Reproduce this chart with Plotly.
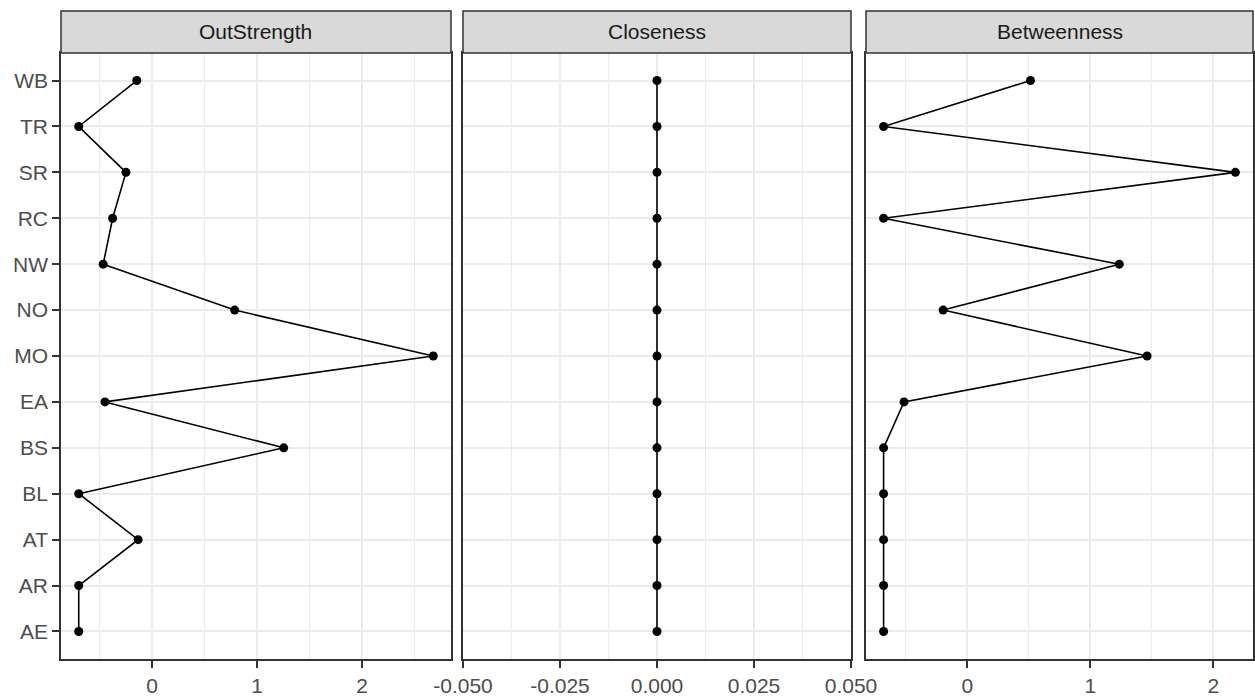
import plotly.graph_objects as go

# ---- data ----
categories = ["AE", "AR", "AT", "BL", "BS", "EA", "MO", "NO", "NW", "RC", "SR", "TR", "WB"]
outstrength = [-0.70, -0.70, -0.134, -0.70, 1.253, -0.45, 2.678, 0.786, -0.467, -0.377, -0.25, -0.70, -0.147]
closeness = [0.0] * 13
betweenness = [-0.68, -0.68, -0.68, -0.68, -0.68, -0.514, 1.462, -0.196, 1.236, -0.68, 2.18, -0.68, 0.514]
panel_titles = ["OutStrength", "Closeness", "Betweenness"]

x1_ticks = [0, 1, 2]
x1_labels = ["0", "1", "2"]
x2_ticks = [-0.05, -0.025, 0.0, 0.025, 0.05]
x2_labels = ["-0.050", "-0.025", "0.000", "0.025", "0.050"]
x3_ticks = [0, 1, 2]
x3_labels = ["0", "1", "2"]

W, H = 1255, 696


def expand(vals, mult=0.05):
    lo, hi = min(vals), max(vals)
    span = hi - lo
    return [lo - mult * span, hi + mult * span]


# panel geometry in pixels
panels_px = [(61, 451), (463, 851), (866, 1253)]
plot_top_px, plot_bot_px = 53, 659
strip_top_px = 11

y_dom = [1 - plot_bot_px / H, 1 - plot_top_px / H]
strip_y0 = 1 - plot_top_px / H
strip_y1 = 1 - strip_top_px / H

BORDER = "#333333"
GRID = "#EBEBEB"
TXT = "#4D4D4D"
FONT = "Liberation Sans, Arial, sans-serif"
FS = 21

fig = go.Figure()
series = [outstrength, closeness, betweenness]
for i, vals in enumerate(series):
    sfx = "" if i == 0 else str(i + 1)
    fig.add_trace(go.Scatter(
        x=vals, y=categories, mode="lines+markers",
        line=dict(color="black", width=1.6),
        marker=dict(color="black", size=9),
        xaxis="x" + sfx, yaxis="y" + sfx, showlegend=False, cliponaxis=False,
    ))

ranges = [expand(outstrength), [-0.05, 0.05], expand(betweenness)]
tickvals = [x1_ticks, x2_ticks, x3_ticks]
ticktexts = [x1_labels, x2_labels, x3_labels]
minor_dt = [0.5, 0.0125, 0.5]

layout = dict(
    width=W, height=H,
    margin=dict(l=0, r=0, t=0, b=0),
    paper_bgcolor="white", plot_bgcolor="white",
    font=dict(family=FONT, size=FS, color=TXT),
    shapes=[], annotations=[],
)

for i in range(3):
    sfx = "" if i == 0 else str(i + 1)
    x0, x1 = panels_px[i]
    dom = [x0 / W, x1 / W]
    layout["xaxis" + sfx] = dict(
        domain=dom, range=ranges[i], anchor="y" + sfx,
        tickmode="array", tickvals=tickvals[i], ticktext=ticktexts[i],
        ticks="outside", ticklen=7, tickwidth=1.5, tickcolor=BORDER,
        showgrid=True, gridcolor=GRID, gridwidth=1.6,
        minor=dict(dtick=minor_dt[i], tick0=0, showgrid=True, gridcolor=GRID, gridwidth=1.2, ticks=""),
        showline=True, linecolor=BORDER, linewidth=1.5, mirror=True,
        zeroline=False, automargin=False,
        tickfont=dict(family=FONT, size=FS, color=TXT),
    )
    layout["yaxis" + sfx] = dict(
        domain=y_dom, anchor="x" + sfx,
        type="category", categoryorder="array", categoryarray=categories,
        range=[-0.6, len(categories) - 0.4],
        showticklabels=(i == 0),
        ticks="outside" if i == 0 else "", ticklen=7, tickwidth=1.5, tickcolor=BORDER,
        showgrid=True, gridcolor=GRID, gridwidth=1.6,
        showline=True, linecolor=BORDER, linewidth=1.5, mirror=True,
        zeroline=False, automargin=False,
        tickfont=dict(family=FONT, size=FS, color=TXT),
    )
    layout["shapes"].append(dict(
        type="rect", xref="paper", yref="paper",
        x0=dom[0], x1=dom[1], y0=strip_y0, y1=strip_y1,
        fillcolor="#D9D9D9", line=dict(color=BORDER, width=1.5), layer="above",
    ))
    layout["annotations"].append(dict(
        xref="paper", yref="paper", x=(dom[0] + dom[1]) / 2, y=(strip_y0 + strip_y1) / 2,
        text=panel_titles[i], showarrow=False, xanchor="center", yanchor="middle",
        font=dict(family=FONT, size=FS, color="#1A1A1A"),
    ))

fig.update_layout(**layout)
fig.write_html(
    "out.html",
    config={"displayModeBar": False},
    post_script="document.body.style.margin='0';document.body.style.padding='0';",
)
